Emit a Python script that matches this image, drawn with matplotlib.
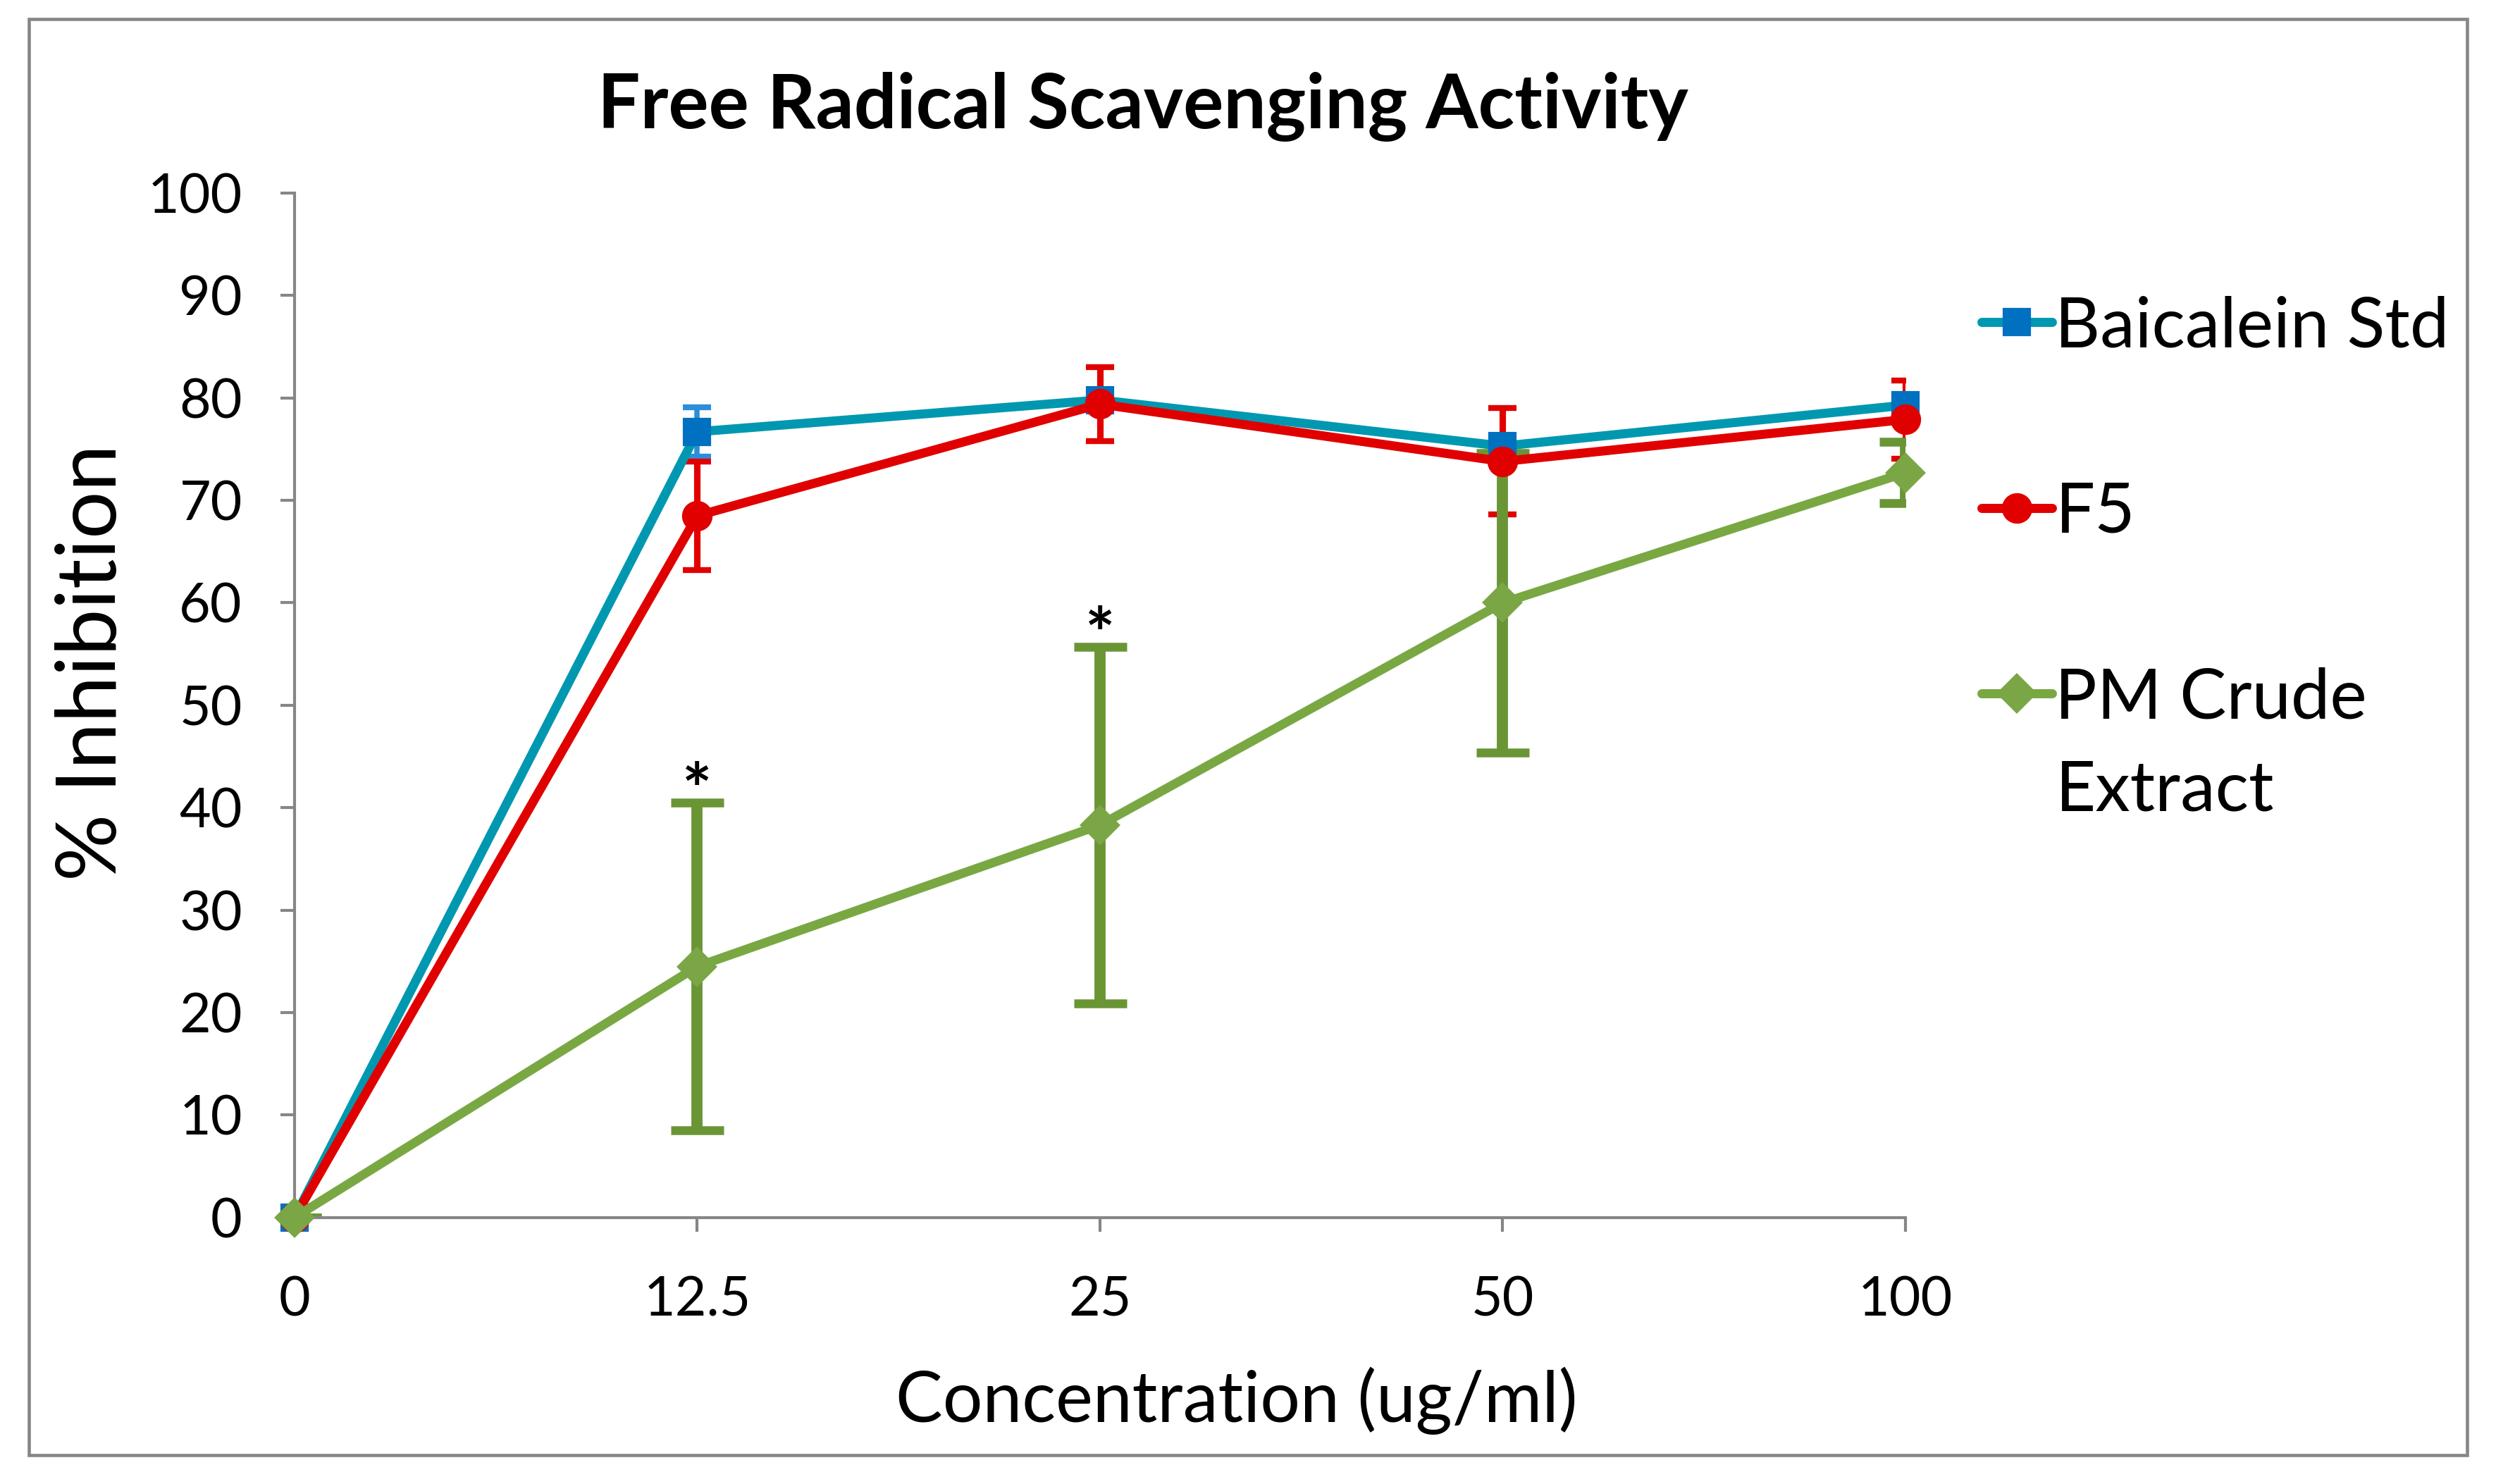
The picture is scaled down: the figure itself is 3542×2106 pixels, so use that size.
import matplotlib
matplotlib.use("Agg")
import matplotlib.pyplot as plt
from matplotlib.lines import Line2D
from matplotlib.patches import Rectangle

plt.rcParams['font.family'] = ['Lato', 'DejaVu Sans']

# data
conc_labels = ["0", "12.5", "25", "50", "100"]
baicalein = [0, 76.7, 79.8, 75.3, 79.3]
baicalein_err = [0, 2.4, 0.8, 0.8, 0.8]
f5 = [0, 68.5, 79.4, 73.8, 77.9]
f5_err = [0, 5.3, 3.6, 5.2, 3.8]
pm_crude = [0, 24.5, 38.3, 60.0, 72.7]
pm_crude_err = [0, 16.0, 17.4, 14.6, 3.0]
signif = [False, True, True, False, False]

W, H = 3542, 2106
fig = plt.figure(figsize=(W / 300, H / 300), dpi=300)
ax = fig.add_axes([0.118, 0.1796, 0.7634 - 0.118, 0.8699 - 0.1796])

x = list(range(len(conc_labels)))
gray = '#868686'

series = [
    ("Baicalein Std", baicalein, baicalein_err, '#0098B0', '#0070C0', 's', 8.8, '#2A8FD8', 1.8, 4.8, 2.0),
    ("F5", f5, f5_err, '#E00000', '#E00000', 'o', 9.4, '#E00000', 2.2, 4.8, 2.0),
    ("PM Crude", pm_crude, pm_crude_err, '#79A843', '#7BA646', 'D', 8.8, '#6A9535', 3.8, 9.0, 3.0),
]

handles = []
for i, (name, vals, errs, lc, mc, mk, ms, ec, elw, cs, ct) in enumerate(series):
    # error bars first, below all lines
    ax.errorbar(x, vals, yerr=errs, fmt='none', ecolor=ec, elinewidth=elw,
                capsize=cs, capthick=ct, zorder=2 + i * 0.1)
    ax.plot(x, vals, color=lc, lw=3.1, zorder=3 + i, clip_on=False,
            solid_capstyle='butt')
    ax.plot(x, vals, ls='none', marker=mk, ms=ms, mfc=mc, mec=mc, zorder=3.5 + i,
            clip_on=False)
    handles.append(Line2D([], [], color=lc, lw=3.1, marker=mk, ms=ms, mfc=mc, mec=mc,
                          solid_capstyle='round'))

# asterisks over the PM crude extract points
for xi, v, e, s in zip(x, pm_crude, pm_crude_err, signif):
    if s:
        ax.text(xi, v + e - 1.2, '*', ha='center', va='baseline', fontsize=24,
                fontweight='bold')

ax.set_xlim(0, 4)
ax.set_ylim(0, 100)
ax.set_xticks(x)
ax.set_xticklabels(conc_labels)
ax.set_yticks(range(0, 101, 10))

for side in ['top', 'right']:
    ax.spines[side].set_visible(False)
for side in ['left', 'bottom']:
    ax.spines[side].set_color(gray)
    ax.spines[side].set_linewidth(1.0)
ax.tick_params(axis='both', direction='out', length=4.8, width=1.0, color=gray,
               labelsize=18.5)
ax.tick_params(axis='x', pad=15)
ax.tick_params(axis='y', pad=13)

ax.set_xlabel("Concentration (ug/ml)", fontsize=24, va='center')
ax.xaxis.set_label_coords(0.585, -0.179)
ax.set_ylabel("% Inhibition", fontsize=28.5, va='center')
ax.yaxis.set_label_coords(-0.1255, 0.542)

fig.text(0.458, 0.928, "Free Radical Scavenging Activity", ha='center', va='center',
         fontsize=25.7, fontweight='bold')

leg = fig.legend(handles, ["Baicalein Std", "F5", "PM Crude"], loc='upper left',
                 bbox_to_anchor=(0.794, 0.801), frameon=False, fontsize=23.8,
                 handlelength=1.0, handletextpad=0.05, labelspacing=1.75,
                 borderpad=0, borderaxespad=0)

# second line of the third legend label
fig.canvas.draw()
bb = leg.get_texts()[2].get_window_extent()
fig.text(bb.x0 / W, (bb.y1 - 131) / H, "Extract", ha='left', va='top', fontsize=23.8)

# outer chart border
fig.patches.append(Rectangle((0.0115, 0.0194), 0.977, 0.9676, transform=fig.transFigure,
                             fill=False, edgecolor=gray, lw=1.1))

fig.savefig("out.png", dpi=300, facecolor='white')
